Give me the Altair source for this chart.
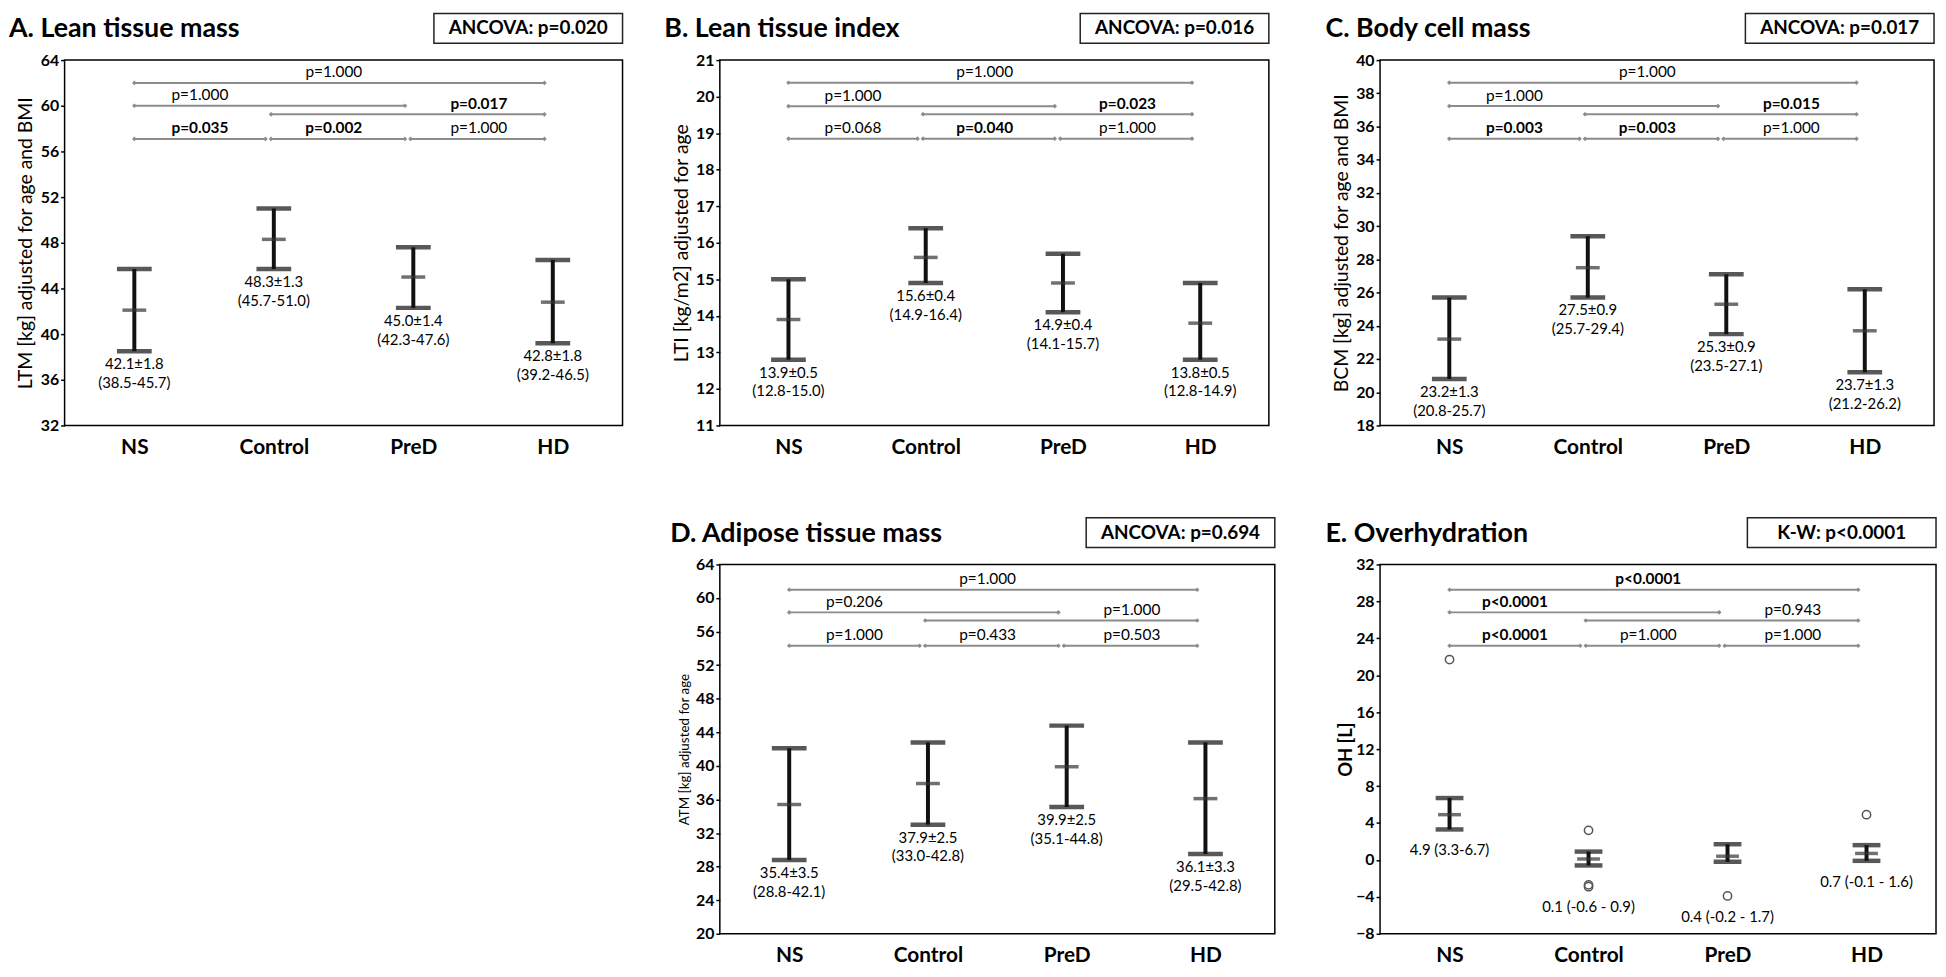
import altair as alt
import pandas as pd

FONT = "Lato"
groups = ["NS", "Control", "PreD", "HD"]
gpos = [0, 1, 2, 3]

# comparison brackets: NS-HD, NS-PreD, Control-HD, NS-Control, Control-PreD, PreD-HD
pair_x1 = [0, 0, 0.98, 0, 0.98, 1.98]
pair_x2 = [2.94, 1.94, 2.94, 0.94, 1.94, 2.94]
ptext_x = [1.43, 0.47, 2.47, 0.47, 1.43, 2.47]

# A. Lean tissue mass
a_mean = [42.1, 48.3, 45.0, 42.8]
a_se = [1.8, 1.3, 1.4, 1.8]
a_lo = [38.5, 45.7, 42.3, 39.2]
a_hi = [45.7, 51.0, 47.6, 46.5]
a_levels = [62.0, 60.0, 59.25, 57.1, 57.1, 57.1]
a_p = ["p=1.000", "p=1.000", "p=0.017", "p=0.035", "p=0.002", "p=1.000"]
a_bold = [False, False, True, True, True, False]

# B. Lean tissue index
b_mean = [13.9, 15.6, 14.9, 13.8]
b_se = [0.5, 0.4, 0.4, 0.5]
b_lo = [12.8, 14.9, 14.1, 12.8]
b_hi = [15.0, 16.4, 15.7, 14.9]
b_levels = [20.38, 19.74, 19.52, 18.85, 18.85, 18.85]
b_p = ["p=1.000", "p=1.000", "p=0.023", "p=0.068", "p=0.040", "p=1.000"]
b_bold = [False, False, True, False, True, False]

# C. Body cell mass
c_mean = [23.2, 27.5, 25.3, 23.7]
c_se = [1.3, 0.9, 0.9, 1.3]
c_lo = [20.8, 25.7, 23.5, 21.2]
c_hi = [25.7, 29.4, 27.1, 26.2]
c_levels = [38.64, 37.23, 36.74, 35.26, 35.26, 35.26]
c_p = ["p=1.000", "p=1.000", "p=0.015", "p=0.003", "p=0.003", "p=1.000"]
c_bold = [False, False, True, True, True, False]

# D. Adipose tissue mass
d_mean = [35.4, 37.9, 39.9, 36.1]
d_se = [3.5, 2.5, 2.5, 3.3]
d_lo = [28.8, 33.0, 35.1, 29.5]
d_hi = [42.1, 42.8, 44.8, 42.8]
d_levels = [60.99, 58.29, 57.32, 54.31, 54.31, 54.31]
d_p = ["p=1.000", "p=0.206", "p=1.000", "p=1.000", "p=0.433", "p=0.503"]
d_bold = [False, False, False, False, False, False]

# E. Overhydration (median, IQR)
e_med = [4.9, 0.1, 0.4, 0.7]
e_q1 = [3.3, -0.6, -0.2, -0.1]
e_q3 = [6.7, 0.9, 1.7, 1.6]
e_out_group = [0, 1, 1, 1, 2, 3]
e_out_val = [21.7, 3.2, -2.7, -2.9, -3.9, 4.9]
e_levels = [29.26, 26.81, 25.93, 23.19, 23.19, 23.19]
e_p = ["p<0.0001", "p<0.0001", "p=0.943", "p<0.0001", "p=1.000", "p=1.000"]
e_bold = [True, True, False, True, False, False]


def fmt(v):
    return f"{v:.1f}"


def panel(title, box_text, ytitle, ytsize, ytbold, ytpad, ydomain, yticks,
          width, height, title_x, mean, lo, hi, labels, label_y, levels,
          ptexts, pbold, cap_size, mean_size, label_two_lines=True,
          outliers=None):
    xaxis = alt.Axis(values=gpos,
                     labelExpr="['NS','Control','PreD','HD'][datum.value]",
                     title=None, ticks=False, domain=False, grid=False,
                     labelFontSize=21, labelFontWeight="bold",
                     labelColor="black", labelPadding=11, labelFont=FONT)
    yaxis = alt.Axis(values=yticks, title=ytitle, titleFontSize=ytsize,
                     titleFontWeight="bold" if ytbold else "normal",
                     titlePadding=ytpad, titleColor="black", titleFont=FONT,
                     labelFontSize=16, labelFontWeight="bold",
                     labelColor="black", labelFont=FONT, labelPadding=2,
                     tickSize=4, tickWidth=1.5, tickColor="black",
                     domain=False, grid=False, minExtent=24, maxExtent=24)
    xs = alt.Scale(domain=[-0.5, 3.5], nice=False, zero=False)
    ys = alt.Scale(domain=ydomain, nice=False, zero=False)

    def X(f):
        return alt.X(f, type="quantitative", scale=xs, axis=xaxis)

    def Y(f):
        return alt.Y(f, type="quantitative", scale=ys, axis=yaxis)

    bars = pd.DataFrame({"x": gpos, "mean": mean, "lo": lo, "hi": hi,
                         "label": labels, "ly": label_y})
    caps = pd.DataFrame({"x": gpos + gpos, "y": list(lo) + list(hi)})
    br = pd.DataFrame({"x1": pair_x1, "x2": pair_x2, "y": levels,
                       "tx": ptext_x, "p": ptexts, "bold": pbold})
    ends = pd.DataFrame({"x": pair_x1 + pair_x2, "y": list(levels) + list(levels)})

    layers = []
    layers.append(alt.Chart(pd.DataFrame({"t": [box_text]})).mark_rect(
        fill="white", stroke="#222", strokeWidth=1.5).encode(
        x=alt.value(width - 190), x2=alt.value(width),
        y=alt.value(-47), y2=alt.value(-17)))
    layers.append(alt.Chart(pd.DataFrame({"t": [box_text]})).mark_text(
        align="center", baseline="middle", fontSize=19, fontWeight="bold",
        font=FONT, color="black").encode(
        x=alt.value(width - 95), y=alt.value(-32), text="t:N"))
    layers.append(alt.Chart(pd.DataFrame({"t": [title]})).mark_text(
        align="left", baseline="middle", fontSize=27, fontWeight="bold",
        font=FONT, color="black").encode(
        x=alt.value(title_x), y=alt.value(-31), text="t:N"))
    layers.append(alt.Chart(br).mark_rule(color="#8c8c8c", strokeWidth=2).encode(
        x=X("x1"), x2="x2", y=Y("y")))
    layers.append(alt.Chart(ends).mark_point(
        shape="diamond", filled=True, size=22, color="#8c8c8c", opacity=1).encode(
        x=X("x"), y=Y("y")))
    for isbold in (False, True):
        sub = br[br["bold"] == isbold]
        if len(sub) == 0:
            continue
        layers.append(alt.Chart(sub).mark_text(
            baseline="middle", dy=-10.5, fontSize=15.5, font=FONT, color="black",
            fontWeight="bold" if isbold else "normal").encode(
            x=X("tx"), y=Y("y"), text="p:N"))
    layers.append(alt.Chart(bars).mark_rule(color="#111", strokeWidth=4).encode(
        x=X("x"), y=Y("lo"), y2="hi"))
    layers.append(alt.Chart(caps).mark_tick(
        orient="horizontal", size=cap_size, thickness=4.5, color="#111").encode(
        x=X("x"), y=Y("y")))
    layers.append(alt.Chart(bars).mark_tick(
        orient="horizontal", size=mean_size, thickness=3.5, color="#333").encode(
        x=X("x"), y=Y("mean")))
    if outliers is not None:
        layers.append(alt.Chart(outliers).mark_point(
            shape="circle", filled=False, size=70, strokeWidth=1.5,
            color="#555", opacity=1).encode(x=X("x"), y=Y("y")))
    if label_two_lines:
        layers.append(alt.Chart(bars).mark_text(
            baseline="top", dy=6, fontSize=15, lineBreak="\n", lineHeight=19,
            font=FONT, color="black").encode(x=X("x"), y=Y("ly"), text="label:N"))
    else:
        layers.append(alt.Chart(bars).mark_text(
            baseline="middle", dy=21, fontSize=15, font=FONT,
            color="black").encode(x=X("x"), y=Y("ly"), text="label:N"))
    return alt.layer(*layers).properties(width=width, height=height)


def se_labels(mean, se, lo, hi):
    return [f"{fmt(m)}±{fmt(s)}\n({fmt(l)}-{fmt(h)})"
            for m, s, l, h in zip(mean, se, lo, hi)]


A = panel("A. Lean tissue mass", "ANCOVA: p=0.020",
          "LTM [kg] adjusted for age and BMI", 19.5, False, 5,
          [32, 64], list(range(32, 65, 4)), 562, 368, -56,
          a_mean, a_lo, a_hi, se_labels(a_mean, a_se, a_lo, a_hi), a_lo,
          a_levels, a_p, a_bold, 35, 24)
B = panel("B. Lean tissue index", "ANCOVA: p=0.016",
          "LTI [kg/m2] adjusted for age", 19.5, False, 5,
          [11, 21], list(range(11, 22, 1)), 553, 368, -56,
          b_mean, b_lo, b_hi, se_labels(b_mean, b_se, b_lo, b_hi), b_lo,
          b_levels, b_p, b_bold, 35, 24)
C = panel("C. Body cell mass", "ANCOVA: p=0.017",
          "BCM [kg] adjusted for age and BMI", 19.5, False, 5,
          [18, 40], list(range(18, 41, 2)), 558, 368, -55,
          c_mean, c_lo, c_hi, se_labels(c_mean, c_se, c_lo, c_hi), c_lo,
          c_levels, c_p, c_bold, 35, 24)
D = panel("D. Adipose tissue mass", "ANCOVA: p=0.694",
          "ATM [kg] adjusted for age", 13.5, False, 5,
          [20, 64], list(range(20, 65, 4)), 559, 372, -50,
          d_mean, d_lo, d_hi, se_labels(d_mean, d_se, d_lo, d_hi), d_lo,
          d_levels, d_p, d_bold, 35, 24)

e_labels = []
for m, l, h in zip(e_med, e_q1, e_q3):
    if l < 0:
        e_labels.append(f"{fmt(m)} ({fmt(l)} - {fmt(h)})")
    else:
        e_labels.append(f"{fmt(m)} ({fmt(l)}-{fmt(h)})")
e_out = pd.DataFrame({"x": e_out_group, "y": e_out_val})
e_low = []
for g in gpos:
    vals = [e_q1[g]] + [v for gg, v in zip(e_out_group, e_out_val) if gg == g]
    e_low.append(min(vals))
E = panel("E. Overhydration", "K-W: p<0.0001", "OH [L]", 18.5, True, 1,
          [-8, 32], list(range(-8, 33, 4)), 560, 372, -55,
          e_med, e_q1, e_q3, e_labels, e_low,
          e_levels, e_p, e_bold, 28, 23, label_two_lines=False, outliers=e_out)

col2 = alt.vconcat(B, D, spacing=58)
col3 = alt.vconcat(C, E, spacing=58)
chart = alt.hconcat(alt.hconcat(A, col2, spacing=39), col3, spacing=48)
chart = chart.properties(padding=0).configure(
    font=FONT, view=alt.ViewConfig(stroke="black", strokeWidth=1.5))

chart.save("out.html", embed_options={"renderer": "svg", "actions": False})
